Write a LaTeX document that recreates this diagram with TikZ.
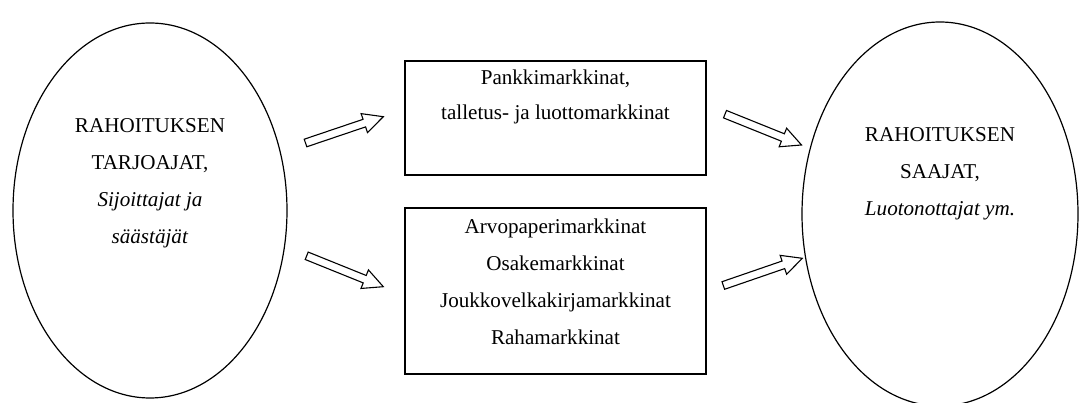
\documentclass[tikz,border=0pt]{standalone}
\usepackage{fontspec}
\setmainfont{Liberation Serif}
\usetikzlibrary{shapes.geometric,calc}

\tikzset{
  kupla/.style={draw, ellipse, line width=1.2pt, inner sep=0pt},
  laatikko/.style={draw, rectangle, line width=1.2pt, inner sep=0pt},
  teksti/.style={align=center, font=\fontsize{21.1}{37}\selectfont},
  nuoli/.style={draw, fill=white, line width=1.1pt, line join=miter,
    to path={let \p1=($(\tikztotarget)-(\tikztostart)$),
      \n1={atan2(\y1,\x1)}, \n2={veclen(\x1,\y1)} in
      ($(\tikztostart)+({\n1+90}:4pt)$)
      -- ($(\tikztostart)+({\n1}:{\n2-20pt})+({\n1+90}:4pt)$)
      -- ($(\tikztostart)+({\n1}:{\n2-20pt})+({\n1+90}:10pt)$)
      -- (\tikztotarget)
      -- ($(\tikztostart)+({\n1}:{\n2-20pt})+({\n1-90}:10pt)$)
      -- ($(\tikztostart)+({\n1}:{\n2-20pt})+({\n1-90}:4pt)$)
      -- ($(\tikztostart)+({\n1-90}:4pt)$) -- cycle}}
}

\begin{document}
\begin{tikzpicture}[x=1pt, y=1pt]
  \useasboundingbox (0,0) rectangle (1082,403);

  \node[kupla, minimum width=274pt, minimum height=375pt] (tarjoajat) at (150,192.5) {};
  \node[teksti] (tarjoajatT) at ($(tarjoajat)+(0,27)$)
    {RAHOITUKSEN\\TARJOAJAT,\\\textit{Sijoittajat ja}\\\textit{säästäjät}};

  \node[laatikko, minimum width=301pt, minimum height=114pt] (pankki) at (555.5,285) {};
  \node[teksti, font=\fontsize{21.1}{35}\selectfont] (pankkiT) at ($(pankki)+(0,21)$)
    {Pankkimarkkinat,\\talletus- ja luottomarkkinat};

  \node[laatikko, minimum width=301pt, minimum height=166pt] (arvopaperi) at (555.5,112) {};
  \node[teksti] (arvopaperiT) at ($(arvopaperi)+(0,9)$)
    {Arvopaperimarkkinat\\Osakemarkkinat\\Joukkovelkakirjamarkkinat\\Rahamarkkinat};

  \node[kupla, minimum width=276pt, minimum height=384pt] (saajat) at (940,189) {};
  \node[teksti] (saajatT) at ($(saajat)+(0,40)$)
    {RAHOITUKSEN\\SAAJAT,\\\textit{Luotonottajat ym.}};

  \coordinate (n1a) at (305.5,260);
  \coordinate (n1b) at (383.3,286.3);
  \coordinate (n2a) at (306.7,147.2);
  \coordinate (n2b) at (383.3,116.3);
  \coordinate (n3a) at (725,288.8);
  \coordinate (n3b) at (801.5,258);
  \coordinate (n4a) at (723.3,117.5);
  \coordinate (n4b) at (802.3,144.7);

  \draw[nuoli] (n1a) to (n1b);
  \draw[nuoli] (n2a) to (n2b);
  \draw[nuoli] (n3a) to (n3b);
  \draw[nuoli] (n4a) to (n4b);
\end{tikzpicture}
\end{document}
